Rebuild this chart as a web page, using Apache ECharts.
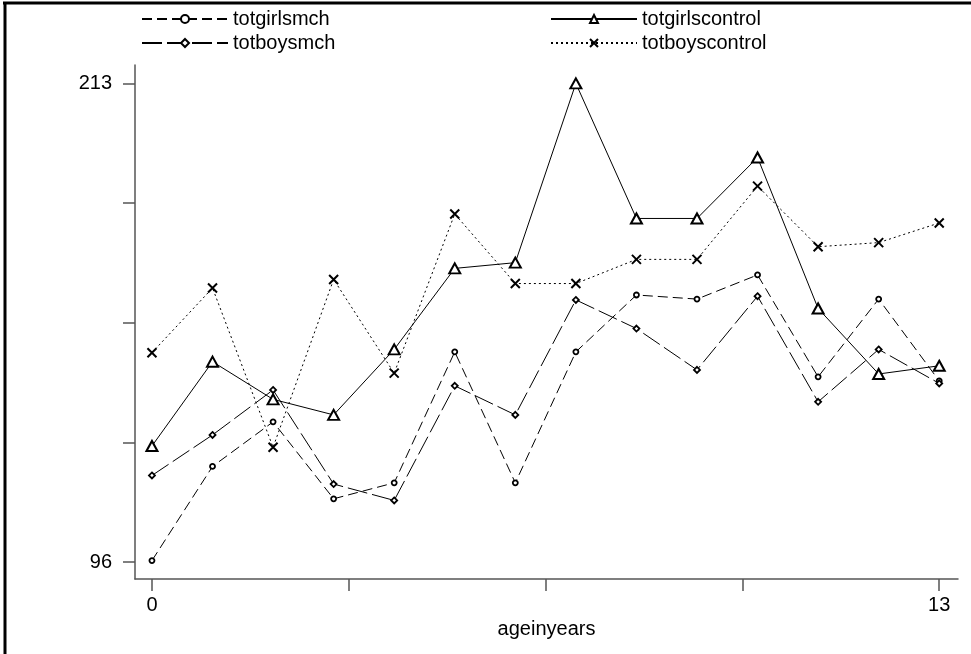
<!DOCTYPE html>
<html>
<head>
<meta charset="utf-8">
<script src="https://cdn.jsdelivr.net/npm/echarts@6/dist/echarts.min.js"></script>
<style>
html,body{margin:0;padding:0;background:#fff;}
#c{width:971px;height:654px;}
</style>
</head>
<body>
<div id="c"></div>
<script>
var ages = [0,1,2,3,4,5,6,7,8,9,10,11,12,13];
var totgirlsmch = [96.4,119.4,130.3,111.5,115.4,147.4,115.4,147.4,161.3,160.3,166.2,141.3,160.3,140.3];
var totboysmch = [117.2,127.1,138.1,115.1,111.1,139.1,132.0,160.1,153.1,143.0,161.0,135.2,148.0,139.7];
var totgirlscontrol = [124.4,145.0,135.8,132.0,148.0,167.8,169.2,213.0,180.0,180.0,194.9,158.0,142.0,144.0];
var totboyscontrol = [147.2,163.0,124.1,165.1,142.2,181.1,164.1,164.1,170.0,170.0,187.9,173.1,174.1,178.9];
var xTicks = [0,3.25,6.5,9.75,13];
var xLabels = [0,13];
var yTicks = [96,125.25,154.5,183.75,213];
var yLabels = [96,213];

function pairs(arr){ return ages.map(function(a,i){ return [a, arr[i]]; }); }

var font = 'Liberation Sans, Arial, sans-serif';
var chart = echarts.init(document.getElementById('c'), null, {renderer:'canvas'});
var mk = {color:'#fff', borderColor:'#000', borderWidth:1.8};
var legText = {fontFamily:font, fontSize:20, color:'#000', lineHeight:22};
chart.setOption({
  animation:false,
  backgroundColor:'#fff',
  textStyle:{fontFamily:font},
  grid:{left:135, top:65, right:13, bottom:75, containLabel:false},
  graphic:[
    {type:'line', shape:{x1:3, y1:3, x2:971, y2:3}, style:{stroke:'#000', lineWidth:3}},
    {type:'line', shape:{x1:5, y1:2, x2:5, y2:654}, style:{stroke:'#000', lineWidth:3}}
  ],
  legend:[
    {left:136, top:3, orient:'vertical', itemWidth:86, itemHeight:10, itemGap:2,
     textStyle:legText, data:['totgirlsmch','totboysmch']},
    {left:545, top:3, orient:'vertical', itemWidth:86, itemHeight:10, itemGap:2,
     textStyle:legText, data:['totgirlscontrol','totboyscontrol']}
  ],
  xAxis:{
    type:'value', min:-0.28, max:13.31,
    name:'ageinyears', nameLocation:'middle', nameGap:36,
    nameTextStyle:{fontFamily:font, fontSize:20, color:'#000'},
    axisLine:{show:true, onZero:false, lineStyle:{color:'#555', width:1.5}},
    axisTick:{show:true, length:12, customValues:xTicks, lineStyle:{color:'#555', width:1.5}},
    axisLabel:{show:true, customValues:xLabels, margin:16, fontFamily:font, fontSize:20, color:'#000'},
    splitLine:{show:false}
  },
  yAxis:{
    type:'value', min:91.9, max:217.5,
    axisLine:{show:true, onZero:false, lineStyle:{color:'#555', width:1.5}},
    axisTick:{show:true, length:12, customValues:yTicks, lineStyle:{color:'#555', width:1.5}},
    axisLabel:{show:true, customValues:yLabels, margin:23, fontFamily:font, fontSize:20, color:'#000'},
    splitLine:{show:false}
  },
  series:[
    {name:'totgirlsmch', type:'line', data:pairs(totgirlsmch), symbol:'circle', symbolSize:5,
     itemStyle:mk, lineStyle:{color:'#000', width:1, type:[10,5]}},
    {name:'totboysmch', type:'line', data:pairs(totboysmch), symbol:'diamond', symbolSize:6,
     itemStyle:mk, lineStyle:{color:'#000', width:1, type:[20,5]}},
    {name:'totgirlscontrol', type:'line', data:pairs(totgirlscontrol), symbol:'triangle', symbolSize:[11,10],
     itemStyle:{color:'#fff', borderColor:'#000', borderWidth:2}, lineStyle:{color:'#000', width:1, type:'solid'}},
    {name:'totboyscontrol', type:'line', data:pairs(totboyscontrol), symbol:'path://M0,0L10,10M10,0L0,10', symbolSize:9,
     itemStyle:{color:'none', borderColor:'#000', borderWidth:2}, lineStyle:{color:'#000', width:1, type:[2,3]}}
  ]
});
</script>
</body>
</html>
